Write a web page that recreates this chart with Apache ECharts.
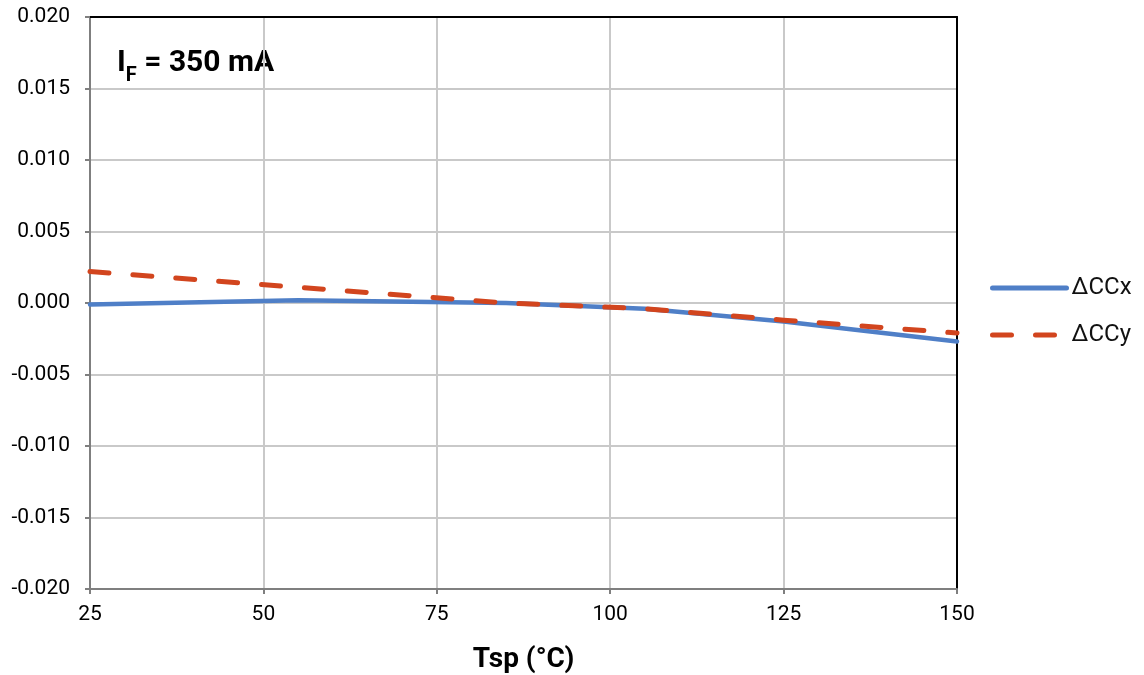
<!DOCTYPE html>
<html>
<head>
<meta charset="utf-8">
<script src="https://cdn.jsdelivr.net/npm/echarts@6/dist/echarts.min.js"></script>
<style>
  html, body { margin: 0; padding: 0; background: #fff; }
  #chart { width: 1144px; height: 675px; }
</style>
</head>
<body>
<div id="chart"></div>
<script>
// Solder-point temperature (°C) at each measurement
const tsp = [25, 55, 85, 105, 125, 150];
// Chromaticity coordinate shift relative to 85 °C
const dCCx = [-0.0001, 0.0002, 0.0000, -0.0004, -0.0013, -0.0027];
const dCCy = [0.0022, 0.0011, 0.0000, -0.0004, -0.0012, -0.0021];
const seriesNames = ['ΔCCx', 'ΔCCy'];
const xTicks = [25, 50, 75, 100, 125, 150];
const yTicks = [-0.020, -0.015, -0.010, -0.005, 0.000, 0.005, 0.010, 0.015, 0.020];

const FONT = 'Roboto, "Liberation Sans", sans-serif';
const BLUE = '#4f7fc7';
const RED = '#d2451e';
const RED_DASH = [19, 24];
const chart = echarts.init(document.getElementById('chart'), null, { renderer: 'canvas' });

const pairs = (xs, ys) => xs.map((x, i) => [x, ys[i]]);

chart.setOption({
  animation: false,
  textStyle: { fontFamily: FONT },
  grid: { left: 90, right: 187, top: 17, bottom: 86, containLabel: false, outerBoundsMode: 'none' },
  legend: {
    orient: 'vertical',
    left: 990,
    top: 276,
    padding: 0,
    itemWidth: 74,
    itemHeight: 16,
    itemGap: 23,
    itemStyle: { opacity: 0 },
    data: [
      { name: seriesNames[0], lineStyle: { width: 5, color: BLUE, cap: 'round' } },
      { name: seriesNames[1], lineStyle: { width: 5, color: RED, type: RED_DASH, cap: 'round' } }
    ],
    textStyle: { fontFamily: FONT, fontSize: 24, color: '#111' }
  },
  graphic: [{
    type: 'text',
    left: 117,
    top: 48,
    style: {
      text: '{a|I}{s|F}{a| = 350 mA}',
      rich: {
        a: { fontFamily: FONT, fontSize: 30, fontWeight: 'bold', fill: '#000', verticalAlign: 'bottom' },
        s: { fontFamily: FONT, fontSize: 20, fontWeight: 'bold', fill: '#000', verticalAlign: 'bottom', padding: [0, 0, -8, 0] }
      }
    }
  }],
  xAxis: [{
    type: 'value',
    min: 25, max: 150, interval: 25,
    name: 'Tsp (°C)',
    nameLocation: 'middle',
    nameGap: 57,
    nameTextStyle: { fontFamily: FONT, fontSize: 28, fontWeight: 'bold', color: '#000' },
    axisLine: { show: true, onZero: false, lineStyle: { color: '#7f7f7f', width: 2 } },
    axisTick: { show: true, length: 5, lineStyle: { color: '#7f7f7f', width: 2 } },
    axisLabel: {
      fontFamily: FONT, fontSize: 21, color: '#000', margin: 15,
      formatter: v => xTicks.includes(v) ? String(v) : ''
    },
    splitLine: { show: true, lineStyle: { color: '#c9c9c9', width: 2 } }
  }, {
    type: 'value', position: 'top', min: 25, max: 150,
    axisLine: { show: true, onZero: false, lineStyle: { color: '#000', width: 2 } },
    axisTick: { show: false }, axisLabel: { show: false }, splitLine: { show: false }
  }],
  yAxis: [{
    type: 'value',
    min: -0.020, max: 0.020, interval: 0.005,
    axisLine: { show: true, onZero: false, lineStyle: { color: '#7f7f7f', width: 2 } },
    axisTick: { show: true, length: 5, lineStyle: { color: '#7f7f7f', width: 2 } },
    axisLabel: {
      fontFamily: FONT, fontSize: 21, color: '#000', margin: 20,
      formatter: v => {
        const t = yTicks.find(k => Math.abs(k - v) < 1e-9);
        return t === undefined ? '' : (Math.abs(t) < 1e-12 ? 0 : t).toFixed(3);
      }
    },
    splitLine: { show: true, lineStyle: { color: '#c9c9c9', width: 2 } }
  }, {
    type: 'value', position: 'right', min: -0.020, max: 0.020,
    axisLine: { show: true, onZero: false, lineStyle: { color: '#000', width: 2 } },
    axisTick: { show: false }, axisLabel: { show: false }, splitLine: { show: false }
  }],
  series: [{
    name: seriesNames[0],
    type: 'line',
    data: pairs(tsp, dCCx),
    symbol: 'none',
    lineStyle: { color: BLUE, width: 4.5, cap: 'round', join: 'round' },
    itemStyle: { color: BLUE },
    z: 3
  }, {
    name: seriesNames[1],
    type: 'line',
    data: pairs(tsp, dCCy),
    symbol: 'none',
    lineStyle: { color: RED, width: 5, type: RED_DASH, cap: 'round', join: 'round' },
    itemStyle: { color: RED },
    z: 4
  }]
});
</script>
</body>
</html>
